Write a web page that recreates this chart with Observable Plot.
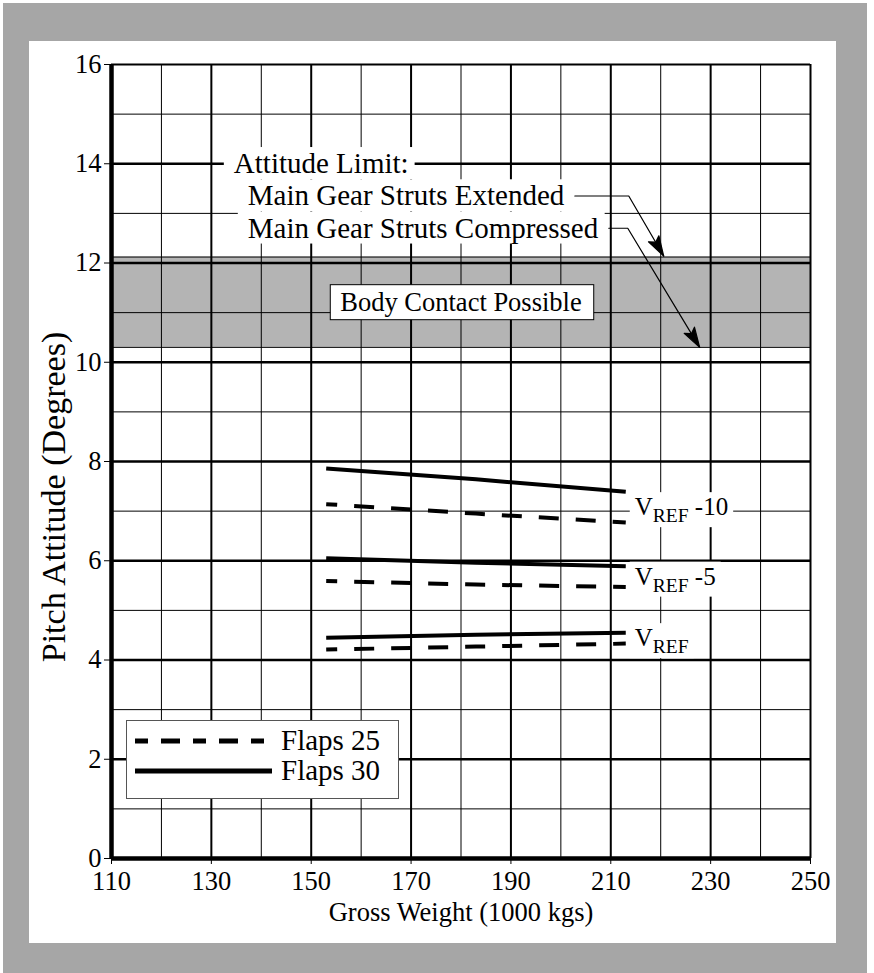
<!DOCTYPE html>
<html><head><meta charset="utf-8">
<script src="https://cdn.jsdelivr.net/npm/d3@7"></script>
<script src="https://cdn.jsdelivr.net/npm/@observablehq/plot@0.6"></script>
<style>
body{margin:0;background:#fff;}
#wrap{position:relative;width:874px;height:973px;overflow:hidden;font-family:"Liberation Serif",serif;}
#grey{position:absolute;left:3px;top:3px;width:864px;height:970px;background:#a6a6a6;}
#panel{position:absolute;left:29px;top:41px;width:807px;height:902px;background:#fff;}
#chart{position:absolute;left:0;top:0;}
#legend{position:absolute;left:126px;top:720px;}
</style></head>
<body><div id="wrap"><div id="grey"></div><div id="panel"></div><div id="chart"></div><svg id="legend" width="275" height="81"></svg></div>
<script>
// ---- data ----
const weights = [153, 183, 213];               // gross weight (1000 kgs)
const flaps30Vref10 = [7.86, 7.64, 7.39];
const flaps30Vref5  = [6.05, 5.96, 5.89];
const flaps30Vref   = [4.45, 4.51, 4.55];
const flaps25Vref10 = [7.14, 6.95, 6.77];
const flaps25Vref5  = [5.59, 5.52, 5.47];
const flaps25Vref   = [4.21, 4.27, 4.33];
const speedSuffix = [" -10", " -5", ""];
const flapSettings = ["Flaps 25", "Flaps 30"];
const xDomain = [110, 250];
const yDomain = [0, 16];
const xTickLabels = [110, 130, 150, 170, 190, 210, 230, 250];
const yTickLabels = [0, 2, 4, 6, 8, 10, 12, 14, 16];
const xGrid = [120, 130, 140, 150, 160, 170, 180, 190, 200, 210, 220, 230, 240];
const yGrid = [1, 2, 3, 4, 5, 6, 7, 8, 9, 10, 11, 12, 13, 14, 15];
const bodyContactBand = [10.3, 12.12];
const bodyContactText = "Body Contact Possible";
const annotationLines = ["Attitude Limit:", "Main Gear Struts Extended", "Main Gear Struts Compressed"];
const annotationX = [134.5, 137.3, 137.3];
const annotationY = [14.0, 13.35, 12.7];
const extendedLeader = [[202.8, 13.35], [213.6, 13.35], [220.6, 12.14]];
const compressedLeader = [[209.6, 12.7], [213.4, 12.7], [227.8, 10.3]];
const xLabel = "Gross Weight (1000 kgs)";
const yLabel = "Pitch Attitude (Degrees)";

// ---- build tables ----
const f30 = [flaps30Vref10, flaps30Vref5, flaps30Vref];
const f25 = [flaps25Vref10, flaps25Vref5, flaps25Vref];
const rows = [];
[f25, f30].forEach((set, fi) => set.forEach((vals, si) => vals.forEach((v, k) =>
  rows.push({weight: weights[k], pitch: v, flaps: flapSettings[fi], speed: si}))));
const speedLabels = speedSuffix.map((s, i) => ({
  weight: weights[weights.length - 1],
  pitch: (f30[i][f30[i].length - 1] + f25[i][f25[i].length - 1]) / 2,
  suffix: s
}));
const band = [{x1: xDomain[0], x2: xDomain[1], y1: bodyContactBand[0], y2: bodyContactBand[1]}];
const annos = annotationLines.map((t, i) => ({t, x: annotationX[i], y: annotationY[i]}));
const leaders = [...extendedLeader.map(p => ({x: p[0], y: p[1], id: "ext"})),
                 ...compressedLeader.map(p => ({x: p[0], y: p[1], id: "comp"}))];

function filledArrow(color) {
  const m = d3.create("svg:marker")
    .attr("viewBox", "-22 -7 24 14")
    .attr("markerWidth", 24).attr("markerHeight", 14)
    .attr("markerUnits", "userSpaceOnUse")
    .attr("refX", 0).attr("refY", 0)
    .attr("orient", "auto");
  m.append("path").attr("d", "M0,0L-20,-6L-16,0L-20,6Z").attr("fill", color || "black");
  return m.node();
}

const chart = Plot.plot({
  width: 874, height: 973,
  marginLeft: 111, marginRight: 64, marginTop: 64, marginBottom: 115,
  style: {background: "transparent", fontFamily: "Liberation Serif", fontSize: "26px", overflow: "visible", color: "black"},
  x: {domain: xDomain, label: null},
  y: {domain: yDomain, label: null},
  marks: [
    Plot.rect(band, {x1: "x1", x2: "x2", y1: "y1", y2: "y2", fill: "#b4b4b4"}),
    Plot.ruleY(bodyContactBand, {stroke: "black", strokeWidth: 1}),
    Plot.ruleX(xGrid, {stroke: "black", strokeWidth: d => xTickLabels.includes(d) ? 2 : 1}),
    Plot.ruleY(yGrid, {stroke: "black", strokeWidth: d => yTickLabels.includes(d) ? 2.5 : 1}),
    Plot.ruleX([xDomain[0]], {stroke: "black", strokeWidth: 4.5}),
    Plot.ruleX([xDomain[1]], {stroke: "black", strokeWidth: 2}),
    Plot.ruleY([yDomain[1]], {stroke: "black", strokeWidth: 2}),
    Plot.ruleY([yDomain[0]], {stroke: "black", strokeWidth: 4.5}),
    Plot.axisX(xTickLabels, {tickSize: 6, tickPadding: 7, fontSize: 26.5, fontFamily: "Liberation Serif", label: null, stroke: "black", tickFormat: d => String(d)}),
    Plot.axisY(yTickLabels, {tickSize: 7, tickPadding: 3, fontSize: 26.5, fontFamily: "Liberation Serif", label: null, stroke: "black", tickFormat: d => String(d)}),
    Plot.text([xLabel], {text: d => d, frameAnchor: "bottom", lineAnchor: "middle", textAnchor: "middle", dy: 54, fontSize: 26.5}),
    Plot.text([yLabel], {text: d => d, frameAnchor: "left", lineAnchor: "middle", textAnchor: "middle", rotate: -90, dx: -57.5, dy: 35.5, fontSize: 34}),
    Plot.line(rows.filter(d => d.flaps === flapSettings[1]), {x: "weight", y: "pitch", z: "speed", stroke: "black", strokeWidth: 4, strokeLinecap: "butt"}),
    Plot.line(rows.filter(d => d.flaps === flapSettings[0]), {x: "weight", y: "pitch", z: "speed", stroke: "black", strokeWidth: 4, strokeLinecap: "butt", strokeDasharray: "20,17", strokeDashoffset: 9}),
    Plot.text(speedLabels, {x: "weight", y: "pitch", text: d => "VREF" + d.suffix, dx: 9, textAnchor: "start", fontSize: 25, ariaLabel: () => "vref"}),
    Plot.line(leaders, {x: "x", y: "y", z: "id", stroke: "black", strokeWidth: 1.2, markerEnd: filledArrow}),
    Plot.text(annos, {x: "x", y: "y", text: "t", textAnchor: "start", fontSize: 29, ariaLabel: () => "anno"}),
    Plot.text([bodyContactText], {text: d => d, x: () => (xDomain[0] + xDomain[1]) / 2, y: () => (bodyContactBand[0] + bodyContactBand[1]) / 2, fontSize: 26.5, ariaLabel: () => "body"})
  ]
});
document.getElementById("chart").appendChild(chart);

const svgNS = "http://www.w3.org/2000/svg";
// subscripts for V_REF labels
d3.select(chart).selectAll('text[aria-label="vref"]').each(function() {
  const t = this;
  const full = t.textContent;
  const suffix = full.slice(4);
  t.textContent = "";
  const a = document.createElementNS(svgNS, "tspan"); a.textContent = "V"; t.appendChild(a);
  const b = document.createElementNS(svgNS, "tspan"); b.textContent = "REF";
  b.setAttribute("font-size", "19.5"); b.setAttribute("dy", "7"); t.appendChild(b);
  if (suffix) {
    const c = document.createElementNS(svgNS, "tspan"); c.textContent = suffix;
    c.setAttribute("dy", "-7"); t.appendChild(c);
  }
});
function boxBehind(label, padL, padR, padT, padB, stroke) {
  d3.select(chart).selectAll(`text[aria-label="${label}"]`).each(function() {
    const t = this, g = t.parentNode;
    const bb = t.getBBox();
    const r = document.createElementNS(svgNS, "rect");
    r.setAttribute("x", bb.x - padL); r.setAttribute("y", bb.y - padT);
    r.setAttribute("width", bb.width + padL + padR); r.setAttribute("height", bb.height + padT + padB);
    r.setAttribute("fill", "white");
    if (stroke) { r.setAttribute("stroke", stroke); r.setAttribute("stroke-width", 1); }
    const tr = t.getAttribute("transform"); if (tr) r.setAttribute("transform", tr);
    g.insertBefore(r, g.firstChild);
  });
}
boxBehind("anno", 10, 6, 0, 0, null);
boxBehind("vref", 5, 5, 1, 1, null);
boxBehind("body", 10, 12, 2, 3, "black");

// legend
const lg = d3.select("#legend");
lg.append("rect").attr("x", 0.5).attr("y", 0.5).attr("width", 272).attr("height", 78)
  .attr("fill", "white").attr("stroke", "#555").attr("stroke-width", 1);
flapSettings.forEach((name, i) => {
  const yy = 21 + i * 30;
  lg.append("line").attr("x1", 9).attr("x2", 146).attr("y1", yy).attr("y2", yy)
    .attr("stroke", "black").attr("stroke-width", 5)
    .attr("stroke-dasharray", i === 0 ? "13,13,19,13" : null);
  lg.append("text").attr("x", 155).attr("y", yy + 9).attr("font-size", 29)
    .attr("font-family", "Liberation Serif").text(name);
});
</script>
</body></html>
